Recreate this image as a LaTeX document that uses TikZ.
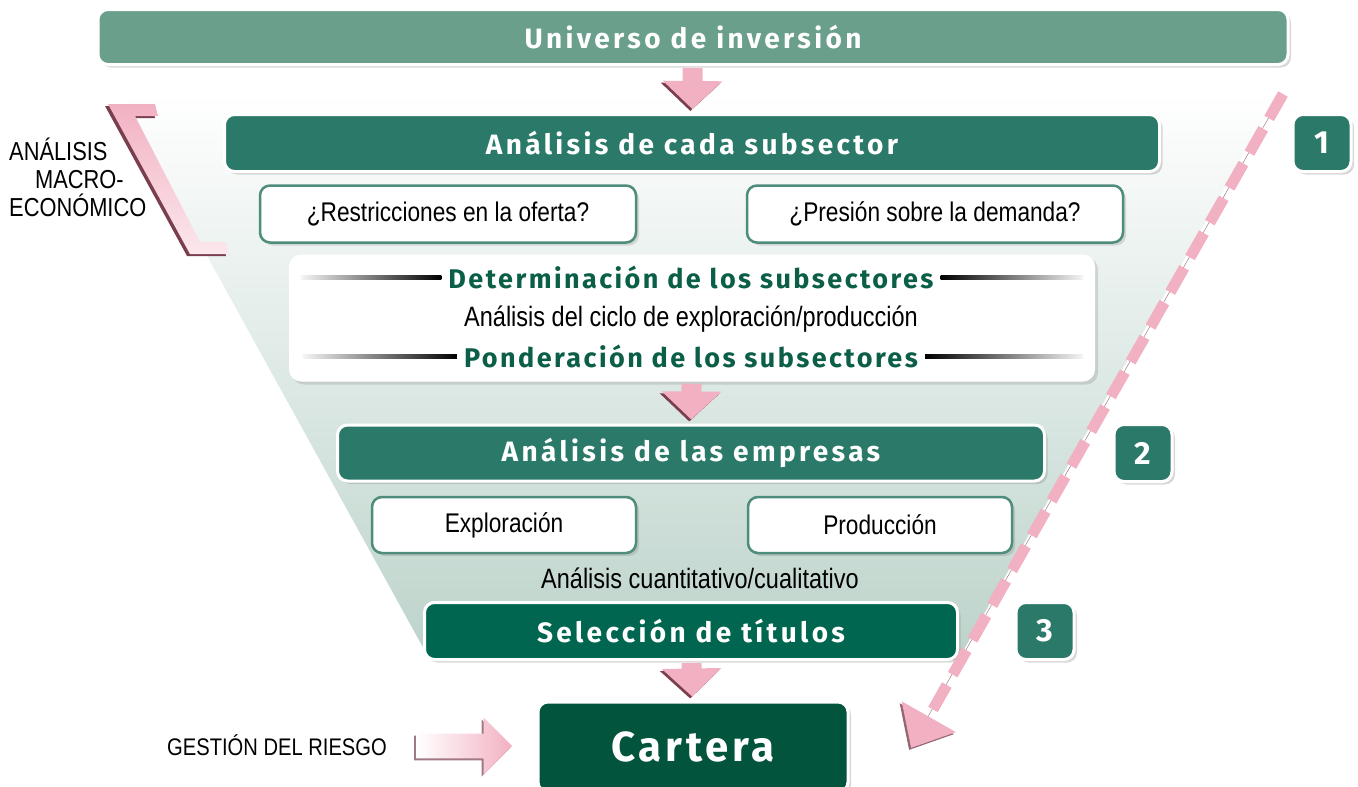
\documentclass[tikz,border=0pt]{standalone}
\usepackage{fontspec}
\setmainfont{Liberation Sans}[FakeStretch=0.84]
\newfontfamily\headfont{Fira Sans}[LetterSpace=12]
\newfontfamily\subfont{Fira Sans}[LetterSpace=9]
\usetikzlibrary{shadows,arrows.meta,shapes.arrows,calc}

\definecolor{univgreen}{HTML}{6A9F8B}
\definecolor{boxgreen}{HTML}{2B7A69}
\definecolor{selgreen}{HTML}{00664F}
\definecolor{cartgreen}{HTML}{03543D}
\definecolor{textgreen}{HTML}{0B5E47}
\definecolor{rimgreen}{HTML}{4E8D7B}
\definecolor{pinkarr}{HTML}{F2B1C2}
\definecolor{pinkdark}{HTML}{7A3F4F}
\definecolor{funnel}{HTML}{BCD3CA}

\begin{document}
\begin{tikzpicture}[x=1pt, y=-1pt,
    bar/.style = {draw=white, line width=3pt, rounded corners=10pt, fill=boxgreen, text=white, inner sep=0pt,
        font=\headfont\bfseries\fontsize{28}{32}\selectfont,
        drop shadow={opacity=0.3, shadow xshift=3pt, shadow yshift=-3pt}},
    question/.style = {draw=rimgreen, line width=2.5pt, rounded corners=10pt, fill=white, inner sep=0pt,
        font=\fontsize{27}{30}\selectfont,
        drop shadow={opacity=0.25, shadow xshift=3pt, shadow yshift=-3pt}},
    panel/.style = {fill=white, rounded corners=12pt, inner sep=0pt,
        drop shadow={opacity=0.25, shadow xshift=3pt, shadow yshift=-3pt}},
    subhead/.style = {text=textgreen, inner sep=0pt, font=\subfont\bfseries\fontsize{27}{30}\selectfont},
    plain/.style = {inner sep=0pt, font=\fontsize{28}{30}\selectfont},
    linefade/.style = {left color=black!4, right color=black},
    blockarrow/.style = {draw=pinkarr, line width=20pt, -{Triangle[width=58pt,length=28pt]},
        shorten <=2pt, shorten >=4pt,
        preaction={draw=pinkdark, transform canvas={xshift=-2pt, yshift=-2pt}}},
    dasharrow/.style = {draw=pinkarr, line width=11pt, dash pattern=on 28pt off 12pt,
        -{Triangle[width=60pt,length=36pt]},
        preaction={draw=pinkdark!80, transform canvas={xshift=-2pt, yshift=-2pt}}},
    riskarrow/.style = {shape=single arrow, inner sep=12pt, minimum width=57pt, minimum height=96pt,
        single arrow head extend=16pt, left color=white, right color=pinkarr,
        drop shadow={fill=pinkdark, opacity=0.7, shadow xshift=-2pt, shadow yshift=-2pt}}]

    \clip (0,0) rectangle (1358,787);

    % funnel and bracket
    \shade[top color=white, bottom color=funnel] (120,98) -- (1279,92) -- (958,660) -- (430,660) -- cycle;
    \fill[pinkdark] (105,106) -- (152,106) -- (155,118) -- (132,118) -- (197,244) -- (223,244) -- (226,256) -- (187,256) -- cycle;
    \shade[top color=pinkarr, bottom color=pinkarr!30] (108,104) -- (155,104) -- (158,116) -- (135,116) -- (200,242) -- (226,242) -- (229,254) -- (190,254) -- cycle;

    % stages
    \node[bar, fill=univgreen, minimum width=1190pt, minimum height=55pt] (univ) at (693,37) {Universo de inversión};
    \node[bar, minimum width=935pt, minimum height=57pt] (sub) at (692,143) {Análisis de cada subsector};
    \node[question, minimum width=376pt, minimum height=57pt] (oferta) at (448,214) {¿Restricciones en la oferta?};
    \node[question, minimum width=376pt, minimum height=57pt] (demanda) at (935,214) {¿Presión sobre la demanda?};
    \node[panel, minimum width=806pt, minimum height=127pt] (panel) at (692,318) {};
    \node[subhead] (det) at (691,277) {Determinación de los subsectores};
    \node[plain] (ciclo) at (691,319) {Análisis del ciclo de exploración/producción};
    \node[subhead] (pond) at (691,356) {Ponderación de los subsectores};
    \node[bar, minimum width=707pt, minimum height=56pt] (emp) at (691,453) {Análisis de las empresas};
    \node[question, minimum width=264pt, minimum height=56pt] (expl) at (504,525) {Exploración};
    \node[question, minimum width=264pt, minimum height=56pt] (prod) at (880,525) {Producción};
    \node[plain] (cuanti) at (700,578) {Análisis cuantitativo/cualitativo};
    \node[bar, fill=selgreen, minimum width=533pt, minimum height=57pt] (sel) at (691,631) {Selección de títulos};
    \node[bar, fill=cartgreen, minimum width=310pt, minimum height=90pt,
        font=\subfont\bfseries\fontsize{42}{46}\selectfont] (cart) at (693,747) {Cartera};

    % step numbers
    \node[bar, minimum width=58pt, minimum height=57pt, font=\headfont\bfseries\fontsize{32}{34}\selectfont] (n1) at (1322,143) {1};
    \node[bar, minimum width=58pt, minimum height=57pt, font=\headfont\bfseries\fontsize{32}{34}\selectfont] (n2) at (1143,453) {2};
    \node[bar, minimum width=58pt, minimum height=57pt, font=\headfont\bfseries\fontsize{32}{34}\selectfont] (n3) at (1045,631) {3};

    % side labels
    \node[plain, align=left, anchor=north west, font=\fontsize{26}{28}\selectfont] (macro) at (9,138)
        {ANÁLISIS\\\hspace{26pt}MACRO-\\ECONÓMICO};
    \node[plain, anchor=west, font=\fontsize{24}{28}\selectfont] (riesgo) at (167,745) {GESTIÓN DEL RIESGO};
    \node[riskarrow] (rarrow) at (458,746) {};

    % fading rules
    \shade[linefade] ($(panel.west |- det)+(12,-2)$) rectangle ($(det.west)+(-7,2)$);
    \shade[linefade, left color=black, right color=black!4] ($(det.east)+(7,-2)$) rectangle ($(panel.east |- det)+(-12,2)$);
    \shade[linefade] ($(panel.west |- pond)+(14,-2)$) rectangle ($(pond.west)+(-7,2)$);
    \shade[linefade, left color=black, right color=black!4] ($(pond.east)+(7,-2)$) rectangle ($(panel.east |- pond)+(-12,2)$);

    % arrows
    \draw[blockarrow] (univ) -- (sub);
    \draw[blockarrow] (panel) -- (emp);
    \draw[blockarrow] (sel) -- (cart);
    \coordinate (dtop) at (1283,94);
    \coordinate (dend) at (911,748);
    \draw[dasharrow] (dtop) -- (dend);
\end{tikzpicture}
\end{document}
